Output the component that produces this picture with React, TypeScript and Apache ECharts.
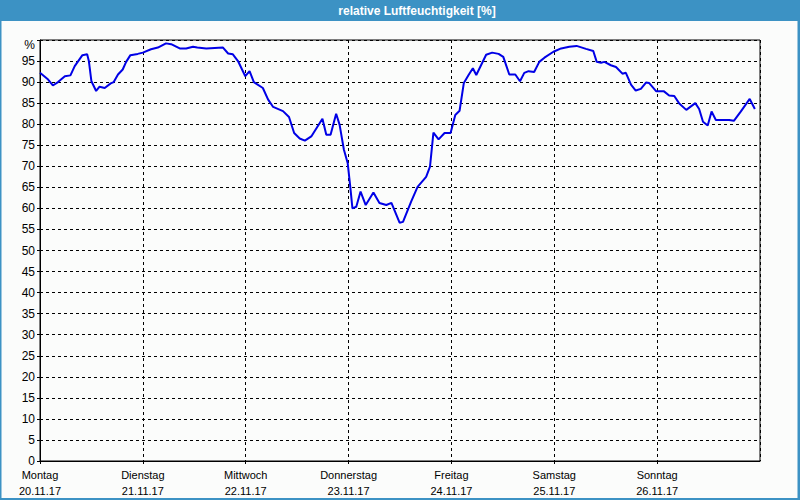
import React, { useEffect, useRef } from "react";
import * as echarts from "echarts";

const dayNames = ["Montag", "Dienstag", "Mittwoch", "Donnerstag", "Freitag", "Samstag", "Sonntag"];
const dayDates = ["20.11.17", "21.11.17", "22.11.17", "23.11.17", "24.11.17", "25.11.17", "26.11.17"];

// hours since Monday 00:00
const hours = [
  0, 1.9, 3.0, 4.2, 5.8, 7.1, 8.1, 9.9, 11.0, 11.4, 12.0, 13.1, 13.9, 15.1, 16.5, 17.2, 18.2, 19.3, 20.1, 21.1,
  22.8, 24.0, 25.9, 27.5, 29.4, 30.6, 32.6, 34.1, 35.7, 36.7, 38.8, 42.7, 43.9, 45.0, 46.2, 47.9, 48.9, 49.9,
  52.0, 53.2, 54.4, 56.7, 58.1, 59.3, 60.6, 61.8, 63.3, 65.9, 66.8, 67.8, 69.1, 69.9, 70.9, 71.8, 72.4, 72.9,
  73.8, 74.8, 76.0, 77.8, 79.2, 80.8, 82.0, 83.9, 84.7, 86.6, 88.1, 90.1, 91.0, 91.8, 93.0, 94.4, 95.8, 96.9,
  97.9, 98.9, 100.0, 101.0, 101.8, 104.1, 105.5, 107.0, 108.1, 109.5, 110.9, 112.0, 113.0, 114.0, 115.3, 116.5,
  117.7, 119.8, 121.6, 123.5, 125.2, 127.4, 129.1, 129.9, 130.9, 131.7, 133.2, 134.4, 135.9, 136.7, 137.9, 139.0,
  140.2, 141.4, 142.1, 143.8, 145.6, 146.8, 148.0, 149.1, 150.8, 152.9, 153.8, 154.7, 155.8, 156.7, 157.7, 160.8,
  161.9, 163.5, 165.6, 166.8,
];
const humidity = [
  92.2, 90.6, 89.2, 90.0, 91.4, 91.6, 93.8, 96.4, 96.6, 95.0, 90.2, 87.9, 88.9, 88.6, 89.7, 90.0, 91.8, 93.0, 94.8, 96.4,
  96.7, 97.0, 97.8, 98.2, 99.2, 99.0, 98.0, 98.0, 98.4, 98.2, 98.0, 98.2, 96.8, 96.6, 95.0, 91.4, 92.6, 90.0,
  88.6, 85.9, 84.1, 83.1, 81.7, 77.9, 76.6, 76.1, 77.1, 81.3, 77.5, 77.5, 82.5, 79.9, 74.0, 70.7, 65.1, 60.0,
  60.4, 64.0, 60.8, 63.8, 61.3, 60.8, 61.3, 56.6, 56.8, 61.6, 65.1, 67.5, 69.9, 78.0, 76.4, 77.9, 77.9, 82.2,
  83.2, 89.8, 91.7, 93.3, 91.7, 96.5, 97.0, 96.7, 96.0, 91.8, 91.8, 90.2, 92.2, 92.6, 92.4, 94.8,
  95.8, 97.2, 98.0, 98.4, 98.6, 97.9, 97.4, 94.8, 94.6, 94.8, 94.0, 93.6, 92.0, 92.2, 89.4, 88.0,
  88.4, 89.9, 89.8, 87.8, 87.8, 86.8, 86.7, 85.0, 83.4, 85.0, 83.6, 80.6, 79.7, 83.0, 81.0, 81.0,
  80.8, 83.0, 86.0, 83.6,
];

const titleText = "relative Luftfeuchtigkeit [%]";

export default function App() {
  const ref = useRef<HTMLDivElement>(null);
  useEffect(() => {
    if (!ref.current) return;
    const chart = echarts.init(ref.current, null, { renderer: "svg" });
    const font = "'Liberation Sans', Arial, sans-serif";
    chart.setOption({
      animation: false,
      backgroundColor: "#fbfcfb",
      textStyle: { fontFamily: font },
      graphic: [
        { type: "rect", shape: { x: 0, y: 0, width: 800, height: 21 }, style: { fill: "#3c92c4" }, z: 10 },
        { type: "rect", shape: { x: 0, y: 0, width: 1.5, height: 500 }, style: { fill: "#3c92c4" }, z: 10 },
        { type: "rect", shape: { x: 797.5, y: 0, width: 2.5, height: 500 }, style: { fill: "#3c92c4" }, z: 10 },
        { type: "rect", shape: { x: 0, y: 498, width: 800, height: 2 }, style: { fill: "#3c92c4" }, z: 10 },
        {
          type: "text",
          x: 417,
          y: 11,
          z: 11,
          style: {
            text: titleText,
            fill: "#ffffff",
            font: `bold 12px ${font}`,
            align: "center",
            verticalAlign: "middle",
          },
        },
      ],
      grid: {
        left: 40,
        right: 40,
        top: 40,
        bottom: 39,
        show: true,
        borderColor: "#000",
        borderWidth: 1,
        backgroundColor: "transparent",
      },
      xAxis: {
        type: "value",
        min: 0,
        max: 168,
        interval: 24,
        axisLine: { show: true, onZero: false, lineStyle: { color: "#000", width: 1 } },
        axisTick: { show: true, length: 3, lineStyle: { color: "#000" } },
        splitLine: { show: true, lineStyle: { color: "#000", type: [3, 3], width: 1 } },
        axisLabel: {
          color: "#000",
          fontSize: 11,
          fontFamily: font,
          lineHeight: 16,
          margin: 6,
          showMaxLabel: false,
          formatter: (v: number) => {
            const i = Math.round(v / 24);
            if (i < 0 || i >= dayNames.length) return "";
            return `${dayNames[i]}\n${dayDates[i]}`;
          },
        },
      },
      yAxis: {
        type: "value",
        min: 0,
        max: 100,
        interval: 5,
        axisLine: { show: true, lineStyle: { color: "#000", width: 1 } },
        axisTick: { show: true, length: 3, lineStyle: { color: "#000" } },
        splitLine: { show: true, lineStyle: { color: "#000", type: [3, 3], width: 1 } },
        axisLabel: {
          color: "#000",
          fontSize: 12,
          fontFamily: font,
          margin: 5,
          formatter: (v: number) => (v === 100 ? "{pct|%}" : String(v)),
          rich: {
            pct: { fontSize: 12, fontFamily: font, color: "#000", padding: [10, 0, 0, 0] },
          },
        },
      },
      series: [
        {
          type: "line",
          data: hours.map((h, i) => [h, humidity[i]]),
          showSymbol: false,
          symbol: "none",
          lineStyle: { color: "#0000e6", width: 2 },
          clip: true,
        },
      ],
    });
    return () => chart.dispose();
  }, []);
  return (
    <div
      ref={ref}
      style={{ position: "absolute", left: 0, top: 0, width: 800, height: 500 }}
    />
  );
}
